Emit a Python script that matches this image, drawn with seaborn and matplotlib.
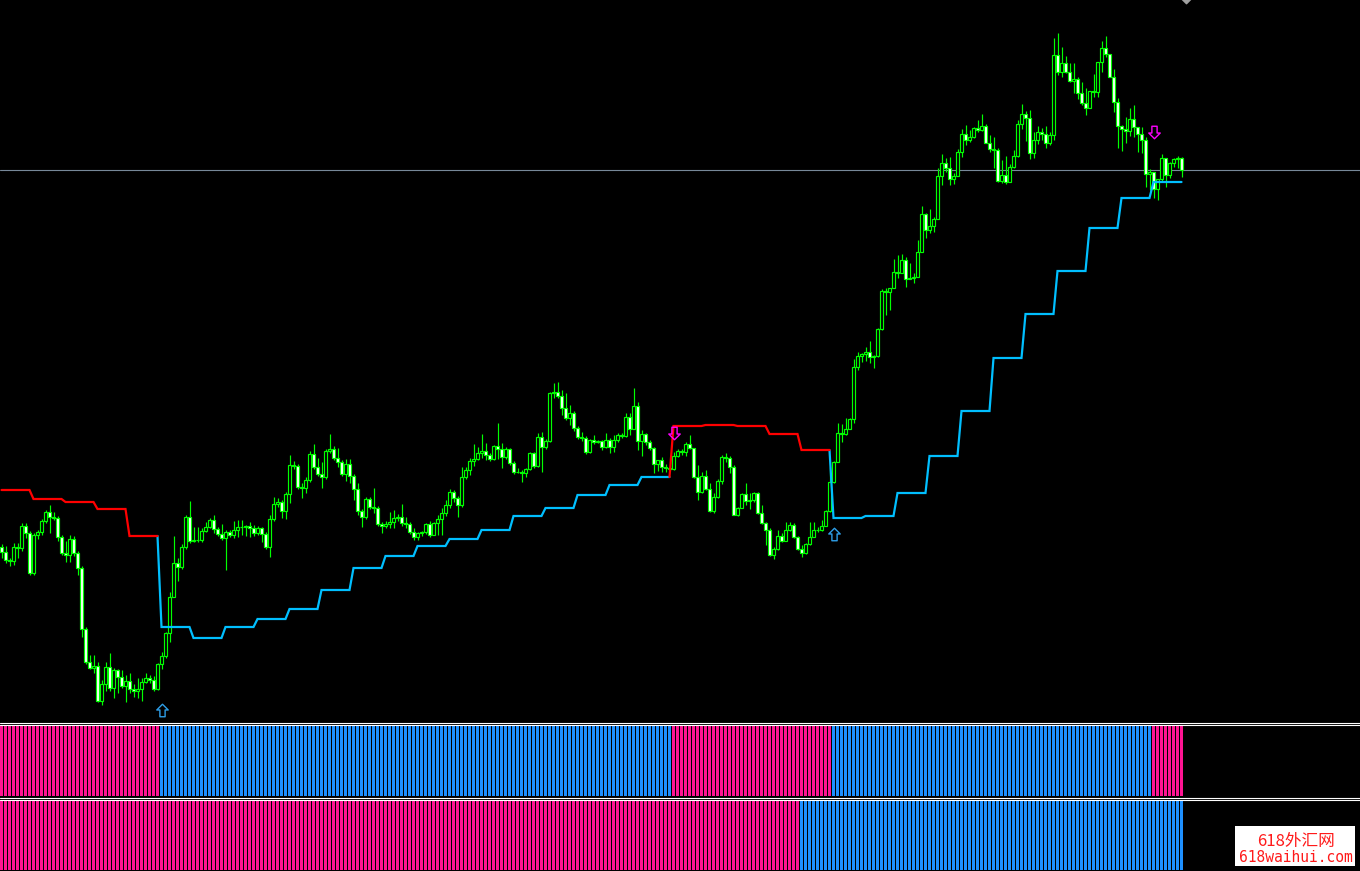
import numpy as np
import pandas as pd
import seaborn as sns
import matplotlib.pyplot as plt
from matplotlib.path import Path
from matplotlib.lines import Line2D
from matplotlib.patches import Rectangle

# --- data (price in points, one value per bar) ---
first_open = 173
close_pts = [
    168, 160, 159, 173, 172, 194, 187, 147, 185, 188,
    199, 208, 203, 202, 183, 167, 165, 181, 167, 152,
    91, 58, 52, 54, 19, 36, 53, 32, 50, 43,
    34, 39, 31, 29, 31, 38, 42, 40, 31, 56,
    64, 87, 123, 157, 153, 173, 203, 179, 180, 180,
    189, 193, 200, 191, 186, 182, 188, 185, 190, 193,
    193, 194, 192, 187, 192, 186, 173, 201, 216, 218,
    209, 226, 255, 254, 233, 232, 240, 266, 253, 246,
    243, 269, 271, 262, 258, 246, 256, 244, 231, 209,
    203, 221, 213, 212, 196, 194, 196, 198, 202, 203,
    197, 196, 188, 183, 187, 188, 196, 185, 197, 201,
    207, 215, 228, 222, 215, 243, 250, 259, 261, 267,
    269, 265, 261, 274, 271, 263, 271, 257, 248, 248,
    247, 251, 267, 254, 283, 273, 279, 327, 328, 324,
    312, 302, 307, 292, 283, 282, 268, 280, 278, 279,
    273, 280, 273, 280, 285, 284, 303, 291, 314, 279,
    286, 278, 272, 256, 260, 253, 252, 251, 264, 269,
    268, 276, 272, 243, 228, 244, 231, 209, 223, 239,
    263, 262, 253, 205, 212, 226, 219, 220, 227, 207,
    197, 190, 165, 171, 184, 179, 190, 195, 183, 171,
    167, 176, 183, 190, 190, 194, 209, 238, 258, 287,
    286, 291, 301, 353, 364, 366, 368, 363, 364, 391,
    429, 428, 432, 448, 447, 460, 441, 442, 443, 468,
    506, 490, 494, 501, 544, 557, 552, 541, 544, 568,
    586, 580, 583, 592, 590, 594, 577, 571, 570, 539,
    545, 538, 553, 564, 596, 606, 602, 567, 580, 588,
    586, 577, 585, 665, 648, 657, 648, 639, 641, 627,
    617, 612, 629, 628, 658, 672, 666, 643, 618, 594,
    591, 589, 601, 593, 586, 580, 546, 548, 531, 541,
    562, 545, 557, 561, 562, 550,
]
upper_wick = [
    3, 6, 2, 4, 4, 3, 3, 2, 2, 2,
    2, 2, 7, 5, 2, 2, 12, 4, 3, 2,
    2, 2, 7, 11, 4, 4, 5, 14, 2, 1,
    7, 6, 8, 5, 11, 4, 5, 3, 4, 1,
    4, 1, 5, 27, 5, 3, 2, 16, 13, 13,
    3, 5, 2, 5, 2, 10, 2, 2, 9, 7,
    7, 1, 4, 3, 2, 1, 2, 4, 7, 4,
    2, 2, 10, 4, 2, 4, 3, 3, 10, 9,
    12, 2, 15, 3, 10, 2, 5, 5, 2, 6,
    2, 2, 2, 19, 2, 2, 3, 10, 8, 3,
    13, 6, 2, 4, 1, 1, 1, 3, 1, 4,
    5, 5, 3, 2, 2, 10, 3, 3, 15, 6,
    17, 8, 2, 1, 23, 6, 2, 1, 2, 4,
    2, 1, 1, 1, 4, 5, 2, 1, 9, 10,
    6, 15, 8, 2, 2, 5, 2, 1, 5, 1,
    1, 7, 2, 5, 2, 2, 4, 4, 18, 4,
    4, 1, 2, 1, 0, 3, 3, 2, 4, 2,
    2, 2, 9, 0, 12, 4, 6, 6, 4, 2,
    2, 4, 2, 2, 1, 1, 11, 7, 1, 1,
    8, 1, 2, 2, 6, 3, 8, 3, 2, 1,
    4, 1, 15, 8, 3, 6, 1, 15, 1, 10,
    9, 11, 1, 8, 4, 1, 5, 11, 1, 1,
    2, 3, 0, 13, 17, 6, 3, 15, 4, 12,
    8, 1, 17, 2, 8, 9, 5, 11, 3, 3,
    5, 9, 7, 1, 8, 12, 2, 8, 12, 2,
    15, 19, 3, 6, 4, 10, 3, 8, 8, 6,
    4, 8, 3, 17, 22, 16, 7, 9, 16, 2,
    11, 15, 0, 17, 0, 7, 12, 0, 8, 4,
    1, 12, 11, 14, 0, 7, 3, 3, 0, 0,
    4, 0, 1, 1, 2, 1,
]
lower_wick = [
    6, 3, 5, 4, 10, 3, 5, 2, 2, 4,
    3, 2, 16, 2, 4, 2, 7, 7, 3, 7,
    8, 2, 1, 5, 1, 4, 7, 3, 10, 16,
    2, 16, 4, 6, 7, 12, 1, 3, 2, 1,
    5, 2, 9, 0, 14, 2, 2, 2, 1, 2,
    2, 1, 1, 4, 2, 2, 32, 2, 3, 7,
    8, 9, 9, 3, 2, 8, 2, 10, 2, 3,
    7, 8, 9, 3, 2, 10, 5, 2, 2, 2,
    11, 2, 2, 2, 5, 2, 7, 7, 11, 4,
    10, 2, 2, 5, 2, 7, 2, 4, 6, 3,
    3, 4, 2, 3, 3, 3, 2, 2, 0, 12,
    16, 3, 3, 4, 12, 2, 2, 5, 5, 1,
    5, 5, 2, 1, 10, 11, 2, 2, 2, 1,
    9, 4, 1, 2, 1, 25, 2, 1, 5, 2,
    7, 2, 7, 3, 2, 3, 2, 1, 2, 1,
    3, 1, 6, 5, 2, 2, 1, 6, 0, 9,
    15, 3, 2, 9, 7, 5, 4, 2, 1, 1,
    3, 4, 1, 1, 8, 1, 1, 1, 2, 1,
    3, 4, 6, 0, 1, 0, 4, 8, 2, 1,
    1, 15, 1, 4, 1, 1, 0, 1, 1, 1,
    4, 1, 1, 0, 2, 1, 0, 1, 1, 0,
    8, 1, 0, 4, 3, 6, 7, 6, 11, 1,
    1, 23, 18, 0, 5, 0, 8, 0, 5, 0,
    0, 8, 3, 6, 0, 9, 4, 6, 5, 0,
    5, 5, 2, 1, 2, 1, 0, 3, 18, 1,
    2, 2, 0, 1, 1, 5, 23, 6, 5, 4,
    6, 5, 2, 5, 3, 5, 1, 1, 12, 6,
    2, 7, 0, 5, 5, 10, 3, 0, 10, 22,
    22, 12, 5, 10, 18, 13, 13, 16, 9, 11,
    2, 12, 3, 4, 9, 7,
]

# trailing stop: one level per block of 8 bars
bars_per_block = 8
stop_levels = [230, 221, 218, 211, 184, 93, 82, 93, 101, 111,
               130, 152, 164, 174, 181, 190, 204, 212, 225, 235,
               243, 294, 295, 294, 286, 270, 202, 204, 227, 264,
               309, 362, 406, 449, 492, 522, 538]
stop_dir = [-1, -1, -1, -1, -1, 1, 1, 1, 1, 1,
            1, 1, 1, 1, 1, 1, 1, 1, 1, 1,
            1, -1, -1, -1, -1, -1, 1, 1, 1, 1,
            1, 1, 1, 1, 1, 1, 1]
# histogram panels (trend per block)
fast_dir = [-1, -1, -1, -1, -1, 1, 1, 1, 1, 1,
            1, 1, 1, 1, 1, 1, 1, 1, 1, 1,
            1, -1, -1, -1, -1, -1, 1, 1, 1, 1,
            1, 1, 1, 1, 1, 1, -1]
slow_dir = [-1, -1, -1, -1, -1, -1, -1, -1, -1, -1,
            -1, -1, -1, -1, -1, -1, -1, -1, -1, -1,
            -1, -1, -1, -1, -1, 1, 1, 1, 1, 1,
            1, 1, 1, 1, 1, 1, 1]
# signal arrows
up_arrow_bars = [40, 208]
up_arrow_pts = [10, 186]
down_arrow_bars = [168, 288]
down_arrow_pts = [287, 588]

LIME = '#00ff00'
RED = '#ff0000'
SKY = '#00bfff'
PINK = '#ff1493'
BLUE = '#1e90ff'
W, H = 1360, 871

sns.set_style('dark', {'axes.facecolor': 'black', 'figure.facecolor': 'black'})

close = np.array(close_pts, dtype=float)
open_ = np.r_[first_open, close[:-1]]
high = np.maximum(open_, close) + np.array(upper_wick)
low = np.minimum(open_, close) - np.array(lower_wick)
n = len(close)
x = np.arange(n)

# stop line buffers
up_line = np.full(n, np.nan)
dn_line = np.full(n, np.nan)
for k, (lvl, d) in enumerate(zip(stop_levels, stop_dir)):
    sl = slice(k * bars_per_block, (k + 1) * bars_per_block)
    target = up_line if d > 0 else dn_line
    target[sl] = lvl
    if k > 0 and d != stop_dir[k - 1]:
        target[k * bars_per_block - 1] = stop_levels[k - 1]

fig = plt.figure(figsize=(W / 100, H / 100), dpi=100, facecolor='black')
ax = fig.add_axes([0, 1 - 722 / H, 1, 722 / H])
ax1 = fig.add_axes([0, 1 - 796 / H, 1, 71 / H])
ax2 = fig.add_axes([0, 1 - 870 / H, 1, 70 / H])
xlim = (-0.375, (W - 1.5) / 4)

# --- main chart: candles ---
ax.vlines(x, low, high, color=LIME, lw=0.85, zorder=2)
body = np.maximum(np.abs(close - open_), 0.4)
fills = np.where(close > open_, 'black', 'white')
ax.bar(x, body, bottom=np.minimum(open_, close), width=0.6, color=fills,
       edgecolor=LIME, linewidth=0.85, zorder=3)

ax.plot(x, up_line, color=SKY, lw=1.6, zorder=4, solid_joinstyle='miter')
ax.plot(x, dn_line, color=RED, lw=1.6, zorder=4, solid_joinstyle='miter')
ax.axhline(close[-1], color='#778899', lw=0.8, zorder=1)

arrow = Path([(0, 6), (5.5, 0.5), (2.5, 0.5), (2.5, -6), (-2.5, -6),
              (-2.5, 0.5), (-5.5, 0.5), (0, 6)],
             [Path.MOVETO] + [Path.LINETO] * 6 + [Path.CLOSEPOLY])
arrow_dn = Path(arrow.vertices * [1, -1], arrow.codes)
ax.plot(up_arrow_bars, up_arrow_pts, ls='none', marker=arrow, ms=9,
        mfc='none', mec='#2e9fe8', mew=1.0, zorder=5)
ax.plot(down_arrow_bars, down_arrow_pts, ls='none', marker=arrow_dn, ms=9,
        mfc='none', mec='#ff00ff', mew=1.0, zorder=5)
ax.plot([n], [723], ls='none', marker=arrow_dn, ms=9,
        mfc='#a0a0a0', mec='#a0a0a0', mew=1.0, zorder=5)

ax.set_xlim(*xlim)
ax.set_ylim(-2, 720)
ax.set_axis_off()

# --- indicator panels ---
for a, dirs in ((ax1, fast_dir), (ax2, slow_dir)):
    df = pd.DataFrame({'bar': x, 'val': 1.0,
                       'dir': np.repeat(dirs, bars_per_block)[:n]})
    sns.barplot(data=df, x='bar', y='val', hue='dir',
                palette={1: BLUE, -1: PINK}, dodge=False, width=0.75,
                linewidth=0, saturation=1, legend=False, ax=a)
    a.set_xlim(*xlim)
    a.set_ylim(0, 1)
    a.set_axis_off()

# window separators
for ypx in (722.5, 724.5, 797.5, 799.5):
    fig.add_artist(Line2D([0, 1], [1 - ypx / H] * 2, transform=fig.transFigure,
                          color='white', lw=0.8))

# watermark
fig.add_artist(Rectangle((1235 / W, 1 - 866 / H), 120 / W, 40 / H,
                         transform=fig.transFigure, facecolor='white',
                         edgecolor='none'))
fig.text(1296 / W, 1 - 841 / H, '618外汇网', color='#ff1a1a', fontsize=12,
         ha='center', va='center', family=['Noto Sans CJK SC', 'DejaVu Sans'])
fig.text(1296 / W, 1 - 857 / H, '618waihui.com', color='#ff1a1a',
         fontsize=10.5, ha='center', va='center', family='DejaVu Sans Mono')

fig.savefig('out.png', dpi=100, facecolor='black')
